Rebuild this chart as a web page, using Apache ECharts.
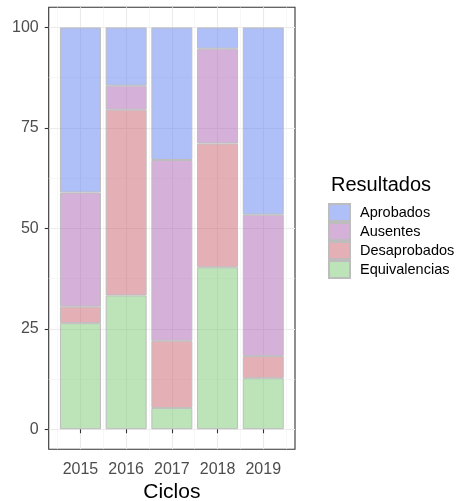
<!DOCTYPE html>
<html>
<head>
<meta charset="utf-8">
<script src="https://cdn.jsdelivr.net/npm/echarts@6/dist/echarts.min.js"></script>
<style>
  html, body { margin: 0; padding: 0; background: #fff; }
  #chart { width: 467px; height: 501px; }
</style>
</head>
<body>
<div id="chart"></div>
<script>
// datos
var ciclos = ["2015", "2016", "2017", "2018", "2019"];
var equivalencias = [26.4, 33.3, 5.3, 40.3, 12.7];
var desaprobados = [4.1, 46.2, 16.7, 30.8, 5.5];
var ausentes = [28.4, 6.0, 45.0, 23.6, 35.2];
var aprobados = [41.1, 14.5, 33.0, 5.3, 46.6];
var yTicks = [0, 25, 50, 75, 100];
var yMinor = [12.5, 37.5, 62.5, 87.5];
var xMajor = [1, 2, 3, 4, 5];
var xMinor = [0.5, 1.5, 2.5, 3.5, 4.5, 5.5];

var font = "Liberation Sans, Arial, sans-serif";

function serie(name, values, color) {
  return {
    name: name,
    type: "bar",
    stack: "total",
    xAxisIndex: 0,
    yAxisIndex: 0,
    barWidth: 41,
    data: values,
    itemStyle: {
      color: color,
      borderColor: "#bdbdbd",
      borderWidth: 1,
    },
    emphasis: { disabled: true },
  };
}

var chart = echarts.init(document.getElementById("chart"));
var option = {
  animation: false,
  title: {
    text: "Resultados",
    left: 326,
    top: 170,
    textStyle: { fontFamily: font, fontSize: 20, fontWeight: "normal", color: "#000" },
  },
  legend: {
    orient: "vertical",
    left: 323,
    top: 198,
    itemWidth: 21,
    itemHeight: 17,
    itemGap: 0,
    icon: "rect",
    data: ["Aprobados", "Ausentes", "Desaprobados", "Equivalencias"],
    textStyle: { fontFamily: font, fontSize: 14.5, color: "#000", padding: [0, 0, 0, 5] },
  },
  grid: [
    // barras
    {
      left: 57.6,
      right: 180.9,
      top: 7.3,
      bottom: 51.7,
      containLabel: false,
      outerBoundsMode: "none",
    },
    // panel
    {
      left: 48.7,
      right: 172,
      top: 7.3,
      bottom: 51.7,
      show: true,
      backgroundColor: "#fff",
      borderColor: "#333",
      borderWidth: 1.1,
      containLabel: false,
      outerBoundsMode: "none",
    },
  ],
  xAxis: [
    {
      type: "category",
      gridIndex: 0,
      data: ciclos,
      name: "Ciclos",
      nameLocation: "middle",
      nameGap: 31,
      nameTextStyle: { fontFamily: font, fontSize: 21, color: "#000" },
      axisLine: { show: false },
      axisTick: { show: true, interval: 0, alignWithLabel: true, length: 4, lineStyle: { color: "#333", width: 1.1 } },
      axisLabel: { interval: 0, margin: 12, fontFamily: font, fontSize: 16, color: "#4d4d4d" },
      splitLine: { show: false },
    },
    {
      type: "value",
      gridIndex: 1,
      min: 0.305,
      max: 5.695,
      axisLine: { show: false },
      axisTick: { show: false, customValues: xMajor },
      axisLabel: { show: false, customValues: xMajor },
      splitLine: { show: true, lineStyle: { color: "#ebebeb", width: 1.1 } },
    },
    {
      type: "value",
      gridIndex: 1,
      min: 0.305,
      max: 5.695,
      axisLine: { show: false },
      axisTick: { show: false, customValues: xMinor },
      axisLabel: { show: false, customValues: xMinor },
      splitLine: { show: true, lineStyle: { color: "#f2f2f2", width: 0.6 } },
    },
  ],
  yAxis: [
    {
      type: "value",
      gridIndex: 0,
      min: -5,
      max: 105,
      axisLine: { show: false },
      axisTick: { show: false },
      axisLabel: { show: false },
      splitLine: { show: false },
    },
    {
      type: "value",
      gridIndex: 1,
      min: -5,
      max: 105,
      axisLine: { show: false },
      axisTick: { show: true, length: 4, customValues: yTicks, lineStyle: { color: "#333", width: 1.1 } },
      axisLabel: { customValues: yTicks, margin: 10, fontFamily: font, fontSize: 16, color: "#4d4d4d" },
      splitLine: { show: true, lineStyle: { color: "#ebebeb", width: 1.1 } },
    },
    {
      type: "value",
      gridIndex: 1,
      min: -5,
      max: 105,
      axisLine: { show: false },
      axisTick: { show: false, customValues: yMinor },
      axisLabel: { show: false, customValues: yMinor },
      splitLine: { show: true, lineStyle: { color: "#f2f2f2", width: 0.6 } },
    },
  ],
  series: [
    serie("Equivalencias", equivalencias, "rgba(123,199,115,0.5)"),
    serie("Desaprobados", desaprobados, "rgba(203,97,107,0.5)"),
    serie("Ausentes", ausentes, "rgba(171,99,179,0.5)"),
    serie("Aprobados", aprobados, "rgba(95,127,241,0.5)"),
  ],
};
chart.setOption(option);
</script>
</body>
</html>
